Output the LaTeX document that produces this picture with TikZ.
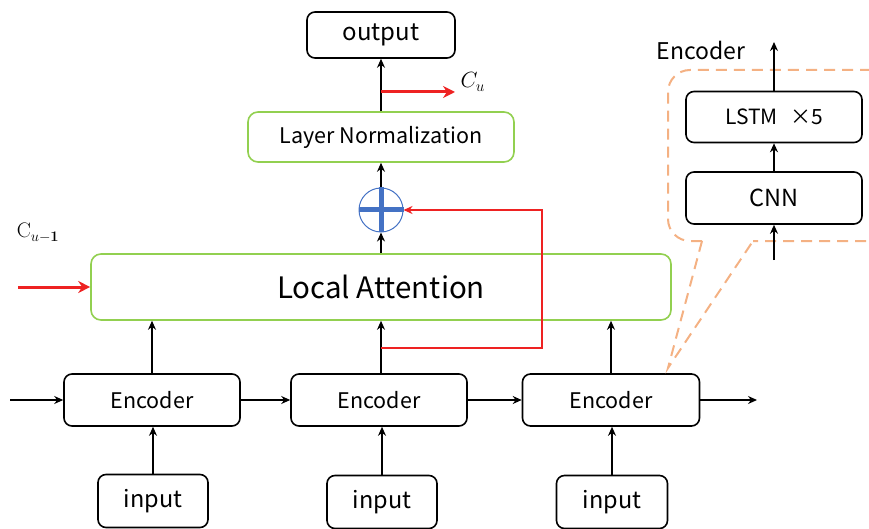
\documentclass[tikz,border=0pt]{standalone}
\usepackage{fix-cm}
\usepackage[no-math]{fontspec}
\setmainfont{Noto Sans CJK JP}
\usetikzlibrary{arrows.meta}
\definecolor{grn}{RGB}{146,208,80}
\definecolor{rd}{RGB}{238,34,34}
\definecolor{bl}{RGB}{68,114,196}
\definecolor{org}{RGB}{244,177,131}
\begin{document}
\begin{tikzpicture}[x=1pt,y=-1pt,
  bbox/.style={draw=black, line width=1.6pt, rounded corners=8pt, inner sep=0pt, fill=white},
  gbox/.style={draw=grn, line width=1.6pt, rounded corners=10pt, inner sep=0pt},
  arr/.style={draw=black, line width=1.6pt, -{Stealth[length=9pt,width=8pt]}},
  rarr/.style={draw=rd, line width=3pt, -{Stealth[length=12pt,width=12pt]}},
  rline/.style={draw=rd, line width=1.6pt},
  fs/.style={font=\fontsize{#1}{#1}\selectfont}
]
\useasboundingbox (0,0) rectangle (869,529);

% main column
\node[bbox, minimum width=148, minimum height=46, fs=24] (out) at (381,35) {output};
\node[gbox, minimum width=266, minimum height=50, fs=21.5] (ln) at (381,137) {Layer Normalization};
\node[circle, draw=bl, line width=1pt, minimum size=44, inner sep=0pt] (plus) at (381,210) {};
\draw[bl, line width=5pt] (plus.north) -- (plus.south) (plus.west) -- (plus.east);
\node[gbox, minimum width=580, minimum height=66, fs=29.5] (la) at (381,287) {Local Attention};

% encoders
\node[bbox, minimum width=176, minimum height=52, fs=21.5] (e1) at (152,400) {Encoder};
\node[bbox, minimum width=176, minimum height=52, fs=21.5] (e2) at (379,400) {Encoder};
\node[bbox, minimum width=177, minimum height=52, fs=21.5] (e3) at (611,400) {Encoder};

% inputs
\node[bbox, minimum width=110, minimum height=53, fs=23.5] (i1) at (153,501) {input};
\node[bbox, minimum width=110, minimum height=53, fs=23.5] (i2) at (382,502) {input};
\node[bbox, minimum width=111, minimum height=53, fs=23.5] (i3) at (612,502) {input};

% inset
\node[bbox, minimum width=176, minimum height=51, fs=21] (lstm) at (774,117) {LSTM\hspace{0.6em}×5};
\node[bbox, minimum width=176, minimum height=52, fs=23.5] (cnn) at (774,198) {CNN};
\node[fs=23, anchor=center] (enclab) at (701,50) {Encoder};

% coordinates
\coordinate (lin) at (10,400);
\coordinate (rout) at (757,400);
\coordinate (ltop) at (774,42);
\coordinate (cbot) at (774,260);
\coordinate (cu) at (455,92);
\coordinate (cuS) at (381,92);
\coordinate (cm1) at (18,287);
\coordinate (rs) at (381,348);
\coordinate (rc) at (542,348);
\coordinate (rt) at (542,210);
\coordinate (tip) at (668,368);
\coordinate (cl1) at (702,241);
\coordinate (cl2) at (753,241);

% dashed callout
\draw[org, line width=2pt, dash pattern=on 11pt off 7pt, rounded corners=22pt]
  (cl1) -- (668,241) -- (668,70) -- (895,70) -- (895,241) -- (cl2);
\draw[org, line width=2pt, dash pattern=on 11pt off 7pt] (cl1) -- (tip) -- (cl2);

% black arrows
\draw[arr] (lin) -- (e1.west);
\draw[arr] (e1.east) -- (e2.west);
\draw[arr] (e2.east) -- (e3.west);
\draw[arr] (e3.east) -- (rout);
\draw[arr] (i1.north) -- (i1.north |- e1.south);
\draw[arr] (i2.north) -- (i2.north |- e2.south);
\draw[arr] (i3.north) -- (i3.north |- e3.south);
\draw[arr] (e1.north) -- (e1.north |- la.south);
\draw[arr] (rs |- e2.north) -- (rs |- la.south);
\draw[arr] (e3.north) -- (e3.north |- la.south);
\draw[arr] (la.north -| plus) -- (plus.south);
\draw[arr] (plus.north) -- (ln.south);
\draw[arr] (ln.north) -- (out.south);
\draw[arr] (cbot) -- (cnn.south);
\draw[arr] (cnn.north) -- (lstm.south);
\draw[arr] (lstm.north) -- (ltop);

% red
\draw[rline, -{Stealth[length=9pt,width=8pt]}] (rs) -- (rc) -- (rt) -- (plus.east);
\draw[rarr] (cuS) -- (cu);
\node[fs=22, anchor=west] (culab) at (457,82) {$C_u$};
\draw[rarr] (cm1) -- (la.west);
\node[fs=21] (cm1lab) at (38,233) {$\mathrm{C}_{u-\mathbf{1}}$};
\end{tikzpicture}
\end{document}
